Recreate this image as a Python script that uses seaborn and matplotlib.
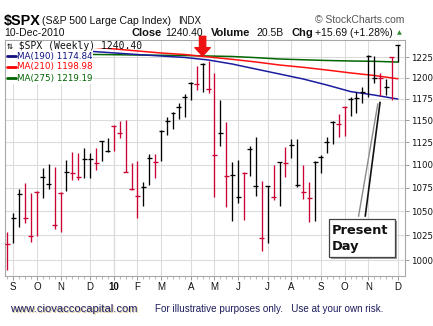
import numpy as np
import matplotlib
matplotlib.use("Agg")
import matplotlib.pyplot as plt
import seaborn as sns
from matplotlib.ticker import FixedLocator, FuncFormatter, NullLocator
from matplotlib.patches import Rectangle

# ---------------- data (weekly $SPX) ----------------
highs = [1028.8, 1047.9, 1073.7, 1080.5, 1069.7, 1071.6, 1096.8, 1100.9, 1097.9, 1070.8,
         1105.3, 1114.6, 1112.8, 1119.0, 1112.8, 1118.3, 1126.9, 1130.3, 1144.7, 1149.7,
         1150.5, 1101.7, 1104.6, 1081.6, 1112.0, 1112.0, 1139.0, 1153.6, 1160.1, 1169.9,
         1180.8, 1194.7, 1214.4, 1217.7, 1220.8, 1205.5, 1173.7, 1148.5, 1102.8, 1105.3,
         1091.8, 1120.9, 1131.4, 1082.3, 1077.3, 1099.8, 1102.8, 1120.1, 1128.5, 1128.8,
         1099.8, 1081.6, 1104.6, 1110.9, 1131.4, 1149.3, 1157.4, 1166.7, 1177.6, 1183.5,
         1188.8, 1227.8, 1226.6, 1206.3, 1198.3, 1225.7, 1240.4]
lows = [990.1, 1017.5, 1033.9, 1038.1, 1018.5, 1024.4, 1063.8, 1073.4, 1031.3, 1028.8,
        1071.9, 1083.4, 1083.4, 1085.3, 1085.3, 1094.3, 1104.6, 1114.6, 1115.7, 1129.6,
        1091.8, 1072.6, 1043.3, 1055.9, 1078.0, 1085.3, 1104.6, 1133.3, 1139.8, 1151.6,
        1154.3, 1173.7, 1185.6, 1183.5, 1181.6, 1064.8, 1120.9, 1054.9, 1039.9, 1059.1,
        1040.9, 1087.8, 1066.5, 1009.1, 1017.5, 1062.0, 1055.9, 1087.0, 1107.2, 1076.2,
        1063.0, 1039.1, 1039.9, 1090.7, 1112.8, 1122.8, 1131.4, 1132.2, 1155.1, 1158.9,
        1169.9, 1177.1, 1193.5, 1178.6, 1179.7, 1173.9, 1219.6]
closes = [1016.2, 1042.7, 1068.0, 1043.3, 1024.7, 1070.8, 1087.0, 1078.8, 1035.7, 1069.7,
          1092.5, 1090.7, 1087.0, 1106.4, 1106.4, 1101.7, 1126.2, 1115.3, 1143.9, 1135.3,
          1091.8, 1073.4, 1066.5, 1076.2, 1107.9, 1103.5, 1138.2, 1149.7, 1158.9, 1165.9,
          1176.9, 1194.2, 1192.7, 1216.8, 1186.4, 1110.9, 1135.3, 1087.8, 1088.5, 1064.8,
          1090.7, 1117.2, 1076.9, 1022.0, 1077.3, 1064.8, 1102.8, 1101.7, 1122.0, 1078.0,
          1070.8, 1063.8, 1103.5, 1109.0, 1125.8, 1148.5, 1145.5, 1165.9, 1174.6, 1175.7,
          1183.5, 1226.6, 1199.5, 1199.5, 1188.8, 1225.0, 1240.4]
direction = "duuddduuddudduuduuddddduuduuuuuududduduuduudududuudduuuudduuuuududu"

ma_weeks = [0, 6, 12, 17, 22, 26, 30, 34, 38, 42, 46, 50, 54, 58, 62, 66]
ma190 = [1237.7, 1235.5, 1233.4, 1230.9, 1228.4, 1226.6, 1224.8, 1221.7, 1216.8, 1210.7,
         1204.7, 1198.7, 1191.5, 1183.7, 1179.6, 1174.84]
ma210 = [1247.0, 1242.6, 1239.0, 1236.0, 1232.8, 1230.3, 1228.4, 1225.4, 1222.5, 1219.3,
         1215.6, 1212.8, 1209.5, 1206.0, 1202.9, 1198.98]
ma275 = [1229.7, 1229.2, 1228.7, 1228.3, 1227.8, 1227.5, 1227.2, 1226.6, 1226.0, 1224.6,
         1222.9, 1222.0, 1221.1, 1220.5, 1220.1, 1219.19]

month_weeks = [1, 5, 9, 14, 18, 22, 26, 31, 35, 39, 44, 48, 53, 57, 61, 66]
month_labels = ["S", "O", "N", "D", "10", "F", "M", "A", "M", "J", "J", "A", "S", "O", "N", "D"]
price_ticks = [1000, 1025, 1050, 1075, 1100, 1125, 1150, 1175, 1200, 1225]

# ---------------- figure ----------------
sns.set_theme(style="white")
plt.rcParams["font.family"] = ["DejaVu Sans"]

W, H = 433, 326
fig = plt.figure(figsize=(W / 100, H / 100), dpi=100)
fig.patch.set_facecolor("white")


def fx(x):
    return x / W


def fy(y):
    return 1 - y / H


ax = fig.add_axes([fx(4.5), fy(276), (405 - 4.5) / W, (276 - 40) / H])
ax.set_facecolor("white")

weeks = np.arange(len(closes))
UP, DOWN = "#000000", "#cc0033"
cols = [UP if d == "u" else DOWN for d in direction]

ax.set_yscale("log")

sns.lineplot(x=ma_weeks, y=ma275, color="#006600", lw=1.1, ax=ax, zorder=2)
sns.lineplot(x=ma_weeks, y=ma210, color="#ff1010", lw=1.1, ax=ax, zorder=2)
sns.lineplot(x=ma_weeks, y=ma190, color="#1c1ca0", lw=1.1, ax=ax, zorder=2)

ax.vlines(weeks, lows, highs, colors=cols, lw=0.95, zorder=3)
ax.hlines(closes, weeks - 0.42, weeks + 0.42, colors=cols, lw=0.95, zorder=3)

ax.set_xlim(-0.47, 67.2)
ax.set_ylim(984.2, 1246.4)

ax.yaxis.tick_right()
ax.yaxis.set_major_locator(FixedLocator(price_ticks))
ax.yaxis.set_major_formatter(FuncFormatter(lambda v, p: f"{v:.0f}"))
ax.yaxis.set_minor_locator(NullLocator())
ax.set_xticks(month_weeks)
ax.set_xticklabels(month_labels)
ax.xaxis.set_minor_locator(FixedLocator(list(weeks)))

ax.tick_params(axis="y", which="major", right=True, length=3, width=0.7, color="#999999",
               labelsize=6.2, pad=1.5, labelcolor="#111111")
ax.tick_params(axis="x", which="major", bottom=True, length=3, width=0.7, color="#999999",
               labelsize=7, pad=1.2, labelcolor="#111111")
ax.tick_params(axis="x", which="minor", bottom=True, length=2, width=0.6, color="#aaaaaa")
for lab in ax.get_xticklabels():
    lab.set_fontfamily("Liberation Sans")
    if lab.get_text() == "10":
        lab.set_fontweight("bold")

ax.grid(True, which="major", color="#dcdcdc", lw=0.8, zorder=0)
ax.set_axisbelow(True)
ax.axvline(18, color="#b0b0b0", lw=0.8, zorder=0.5)
for s in ax.spines.values():
    s.set_color("#a8a8a8")
    s.set_linewidth(0.8)

# legend background and entries
fig.patches.append(Rectangle((fx(5.5), fy(84)), (93 - 5.5) / W, (84 - 41) / H,
                             transform=fig.transFigure, facecolor="white", edgecolor="none", zorder=1))
fig.patches.append(Rectangle((fx(5.5), fy(48)), (151 - 5.5) / W, (48 - 41) / H,
                             transform=fig.transFigure, facecolor="white", edgecolor="none", zorder=1))
fig.text(fx(7), fy(49), "\u21c5 $SPX (Weekly) 1240.40", fontsize=7.0, color="#111111",
         family=["DejaVu Sans Mono", "DejaVu Sans"], va="baseline", ha="left", zorder=3)
leg = [("MA(190) 1174.84", "#101080", 58.5), ("MA(210) 1198.98", "#ff0000", 69.5),
       ("MA(275) 1219.19", "#006400", 80.5)]
for txt, c, yb in leg:
    fig.lines.append(plt.Line2D([fx(7), fx(15.5)], [fy(yb - 2.8), fy(yb - 2.8)],
                                transform=fig.transFigure, color=c, lw=2.0, zorder=3))
    fig.text(fx(17), fy(yb), txt, fontsize=6.3, color=c, va="baseline", ha="left", zorder=3)

# red arrow over April high
ax.annotate("", xy=(33, 1226.6), xytext=(33, 1251.0),
            arrowprops=dict(arrowstyle="simple,head_width=1.1,head_length=0.6,tail_width=0.45",
                            color="#ee1111", mutation_scale=10, shrinkA=0, shrinkB=0),
            annotation_clip=False, zorder=8)

# Present Day callout
ax.plot([59.34, 62.62], [1044.3, 1169.9], color="#8a8a8a", lw=1.0, zorder=5, solid_capstyle="butt")
ax.plot([60.47, 63.0], [1044.3, 1171.8], color="#111111", lw=1.2, zorder=5, solid_capstyle="butt")
ax.add_patch(Rectangle((54.75, 1001.0), 11.1, 1039.9 - 1001.0, facecolor="#9a9a9a",
                       edgecolor="none", zorder=6))
ax.add_patch(Rectangle((54.4, 1003.0), 11.1, 1041.9 - 1003.0, facecolor="white",
                       edgecolor="#444444", lw=0.9, zorder=7))
ax.text(54.9, 1026.4, "Present", fontsize=9.4, fontweight="bold", color="#111111",
        va="baseline", ha="left", zorder=8)
ax.text(54.9, 1010.6, "Day", fontsize=9.4, fontweight="bold", color="#111111",
        va="baseline", ha="left", zorder=8)

# ---------------- header ----------------
hf = "Liberation Sans"
fig.text(fx(4), fy(24.5), "$SPX", fontsize=10.4, fontweight="bold", family=hf, color="#000000")
fig.text(fx(42), fy(24), "(S&P 500 Large Cap Index)", fontsize=7.6, family=hf, color="#111111")
fig.text(fx(178), fy(24), "INDX", fontsize=7.0, family=hf, color="#111111")
fig.text(fx(404), fy(23), "\u00a9 StockCharts.com", fontsize=7.5, family=hf, color="#555555", ha="right")

fig.text(fx(4), fy(35.5), "10-Dec-2010", fontsize=7.5, family=hf, color="#111111")
fig.text(fx(131), fy(35.5), "Close", fontsize=8.0, fontweight="bold", family=hf, color="#111111")
fig.text(fx(165.5), fy(35.5), "1240.40", fontsize=7.5, family=hf, color="#111111")
fig.text(fx(211), fy(35.5), "Volume", fontsize=8.0, fontweight="bold", family=hf, color="#111111")
fig.text(fx(256.5), fy(35.5), "20.5B", fontsize=7.5, family=hf, color="#111111")
fig.text(fx(291), fy(35.5), "Chg", fontsize=8.0, fontweight="bold", family=hf, color="#111111")
fig.text(fx(315), fy(35.5), "+15.69 (+1.28%)", fontsize=7.5, family=hf, color="#111111")
fig.text(fx(397), fy(34.5), "\u25b2", fontsize=4.5, color="#2e8b2e")

# ---------------- footer ----------------
fig.text(fx(11), fy(313), "www.ciovaccocapital.com", fontsize=8.1, family=hf, color="#d6c78a")
fig.text(fx(10), fy(312), "www.ciovaccocapital.com", fontsize=8.1, family=hf, color="#1e1e6a")
fig.text(fx(155), fy(312), "For illustrative purposes only.   Use at your own risk.",
         fontsize=7.1, family=hf, color="#1c1c5c")

fig.savefig("out.png", dpi=100, facecolor="white")
